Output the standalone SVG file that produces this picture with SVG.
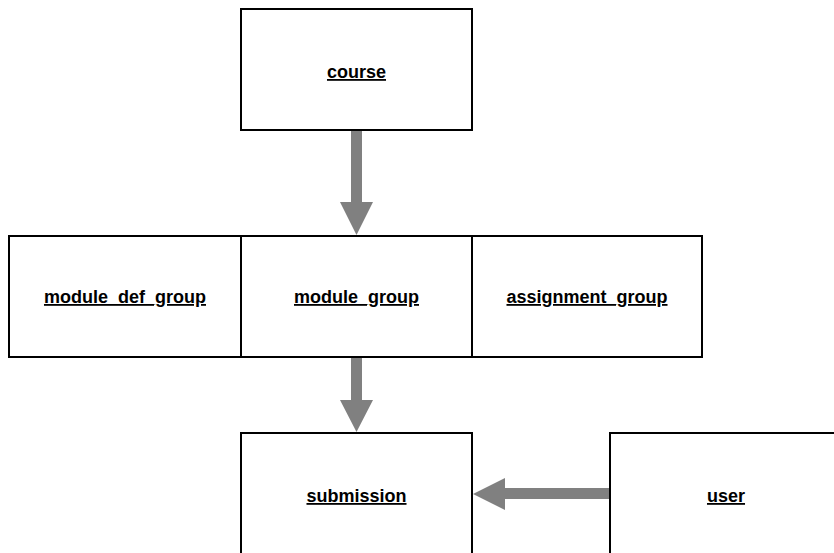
<svg xmlns="http://www.w3.org/2000/svg" width="834" height="553" viewBox="0 0 834 553">
<style>
.box{fill:#fff;stroke:#000;stroke-width:2}
.lbl{font-family:"Liberation Sans",Arial,sans-serif;font-weight:bold;font-size:18px;text-anchor:middle;text-decoration:underline;fill:#000}
.arr{fill:#808080;stroke:none}
</style>
<rect width="834" height="553" fill="#fff"/>
<g id="course"><rect class="box" x="241" y="9" width="231" height="121"/><text class="lbl" x="356.5" y="78">course</text></g>
<g id="module_def_group"><rect class="box" x="9" y="236" width="232" height="121"/><text class="lbl" x="125" y="303">module_def_group</text></g>
<g id="module_group"><rect class="box" x="241" y="236" width="231" height="121"/><text class="lbl" x="356.5" y="303">module_group</text></g>
<g id="assignment_group"><rect class="box" x="472" y="236" width="230" height="121"/><text class="lbl" x="587" y="303">assignment_group</text></g>
<g id="submission"><rect class="box" x="241" y="433" width="231" height="130"/><text class="lbl" x="356.5" y="502">submission</text></g>
<g id="user"><rect class="box" x="610" y="433" width="240" height="130"/><text class="lbl" x="726" y="502">user</text></g>
<g id="connectors">
<path class="arr" d="M351,131 H362 V202 H373 L356.5,235 L340,202 H351 Z"/>
<path class="arr" d="M351,358 H362 V400 H373 L356.5,432 L340,400 H351 Z"/>
<path class="arr" d="M609,488 V499 H505 V510 L473,494 L505,478 V488 Z"/>
</g>
</svg>
